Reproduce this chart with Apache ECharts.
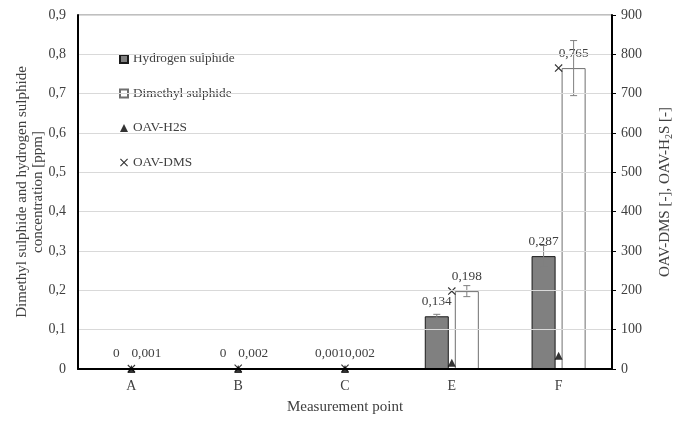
<!DOCTYPE html>
<html>
<head>
<meta charset="utf-8">
<script src="https://cdn.jsdelivr.net/npm/echarts@6/dist/echarts.min.js"></script>
<style>
  html, body { margin: 0; padding: 0; background: #fff; }
  #chart { width: 682px; height: 421px; }
</style>
</head>
<body>
<div id="chart"></div>
<script>
// Measurement points
const categories = ['A', 'B', 'C', 'E', 'F'];

// Concentrations [ppm]
const h2sConc = [0, 0, 0.001, 0.134, 0.287];
const dmsConc = [0.001, 0.002, 0.002, 0.198, 0.765];

// Standard deviations of the concentrations [ppm]
const h2sErr = [0, 0, 0, 0.005, 0.027];
const dmsErr = [0, 0, 0, 0.014, 0.07];

// Odour activity values [-]
const oavH2s = [0, 0, 0.1, 16, 34];
const oavDms = [1, 2, 2, 198, 765];

// Axis ticks
const leftTicks = { min: 0, max: 0.9, interval: 0.1 };
const rightTicks = { min: 0, max: 900, interval: 100 };

const FONT = '"Liberation Serif", "Times New Roman", serif';
const TXT = '#404040';
const BAR_W = 0.225;   // bar width as a share of the category band
const BAR_GAP = 0.25;  // gap between the two bars, share of bar width

const comma = v => String(v).replace('.', ',');
const crossPath = 'path://M0,1L1,0L5,4L9,0L10,1L6,5L10,9L9,10L5,6L1,10L0,9L4,5Z';

// Error bars placed on the bar centres, side = -1 (left bar) or 1 (right bar)
function errorBars(values, errors, side) {
  return {
    type: 'custom',
    yAxisIndex: 0,
    z: 5,
    silent: true,
    encode: { x: 0, y: 1 },
    data: values.map((v, i) => [i, v, errors[i]]),
    renderItem(params, api) {
      const idx = api.value(0), v = api.value(1), e = api.value(2);
      if (!e) return null;
      const band = api.size([1, 0])[0];
      const bw = band * BAR_W;
      const off = side * (bw / 2 + bw * BAR_GAP / 2);
      const hi = api.coord([idx, v + e]);
      const lo = api.coord([idx, v - e]);
      const x = hi[0] + off;
      const cap = 3.5;
      const style = { stroke: '#7f7f7f', lineWidth: 1 };
      return {
        type: 'group',
        children: [
          { type: 'line', shape: { x1: x, y1: hi[1], x2: x, y2: lo[1] }, style },
          { type: 'line', shape: { x1: x - cap, y1: hi[1], x2: x + cap, y2: hi[1] }, style },
          { type: 'line', shape: { x1: x - cap, y1: lo[1], x2: x + cap, y2: lo[1] }, style }
        ]
      };
    }
  };
}

const barLabel = {
  show: true,
  position: 'top',
  distance: 8,
  color: TXT,
  fontFamily: FONT,
  fontSize: 13.3,
  formatter: p => comma(p.value)
};

const chart = echarts.init(document.getElementById('chart'), null, { renderer: 'canvas' });

chart.setOption({
  animation: false,
  textStyle: { fontFamily: FONT, color: TXT },
  grid: {
    left: 78, right: 69, top: 15, bottom: 52,
    show: true, borderColor: '#7f7f7f', borderWidth: 1
  },
  legend: {
    orient: 'vertical',
    left: 114,
    top: 47,
    itemWidth: 8,
    itemHeight: 8,
    itemGap: 20.5,
    textStyle: { fontFamily: FONT, fontSize: 13.3, color: TXT, lineHeight: 14 },
    data: [
      { name: 'Hydrogen sulphide', icon: 'rect' },
      { name: 'Dimethyl sulphide', icon: 'rect' },
      { name: 'OAV-H2S', icon: 'triangle' },
      { name: 'OAV-DMS', icon: crossPath }
    ]
  },
  xAxis: {
    type: 'category',
    data: categories,
    name: 'Measurement point',
    nameLocation: 'middle',
    nameGap: 31,
    nameMoveOverlap: false,
    nameTextStyle: { fontFamily: FONT, fontSize: 15, color: TXT },
    axisLine: { lineStyle: { color: '#000', width: 2 } },
    axisTick: { show: false },
    axisLabel: { fontFamily: FONT, fontSize: 14, color: TXT, margin: 10 },
    z: 10
  },
  yAxis: [
    {
      type: 'value',
      min: leftTicks.min, max: leftTicks.max, interval: leftTicks.interval,
      name: 'Dimethyl sulphide and hydrogen sulphide\nconcentration [ppm]',
      nameLocation: 'middle',
      nameGap: 32,
      nameMoveOverlap: false,
      nameRotate: 90,
      nameTextStyle: { fontFamily: FONT, fontSize: 15, color: TXT, lineHeight: 16 },
      axisLine: { show: true, lineStyle: { color: '#000', width: 2 } },
      axisTick: { show: false },
      axisLabel: {
        fontFamily: FONT, fontSize: 14, color: TXT, margin: 12,
        formatter: v => comma(+v.toFixed(1))
      },
      splitLine: { lineStyle: { color: '#d9d9d9', width: 1 } },
      z: 10
    },
    {
      type: 'value',
      position: 'right',
      min: rightTicks.min, max: rightTicks.max, interval: rightTicks.interval,
      name: 'OAV-DMS [-], OAV-H{s|2}S [-]',
      nameLocation: 'middle',
      nameGap: 44,
      nameRotate: 90,
      nameTextStyle: {
        fontFamily: FONT, fontSize: 15, color: TXT,
        rich: { s: { fontFamily: FONT, fontSize: 10, color: TXT, padding: [8, 0, 0, 0] } }
      },
      axisLine: { show: true, lineStyle: { color: '#000', width: 2 } },
      axisTick: { show: true, inside: false, length: 4, lineStyle: { color: '#000', width: 1 } },
      axisLabel: { fontFamily: FONT, fontSize: 14, color: TXT, margin: 9 },
      splitLine: { show: false },
      z: 10
    }
  ],
  series: [
    {
      name: 'Hydrogen sulphide',
      type: 'bar',
      yAxisIndex: 0,
      barWidth: (BAR_W * 100) + '%',
      barGap: (BAR_GAP * 100) + '%',
      data: h2sConc,
      itemStyle: { color: '#808080', borderColor: '#1a1a1a', borderWidth: 1 },
      label: barLabel
    },
    {
      name: 'Dimethyl sulphide',
      type: 'bar',
      yAxisIndex: 0,
      barWidth: (BAR_W * 100) + '%',
      barGap: (BAR_GAP * 100) + '%',
      data: dmsConc,
      itemStyle: { color: '#ffffff', borderColor: '#6f6f6f', borderWidth: 1 },
      label: barLabel
    },
    errorBars(h2sConc, h2sErr, -1),
    errorBars(dmsConc, dmsErr, 1),
    {
      name: 'OAV-H2S',
      type: 'scatter',
      yAxisIndex: 1,
      symbol: 'triangle',
      symbolSize: 8,
      z: 6,
      itemStyle: { color: '#000' },
      data: oavH2s
    },
    {
      name: 'OAV-DMS',
      type: 'scatter',
      yAxisIndex: 1,
      symbol: crossPath,
      symbolSize: 8,
      z: 6,
      itemStyle: { color: '#000' },
      data: oavDms
    }
  ]
});
</script>
</body>
</html>
